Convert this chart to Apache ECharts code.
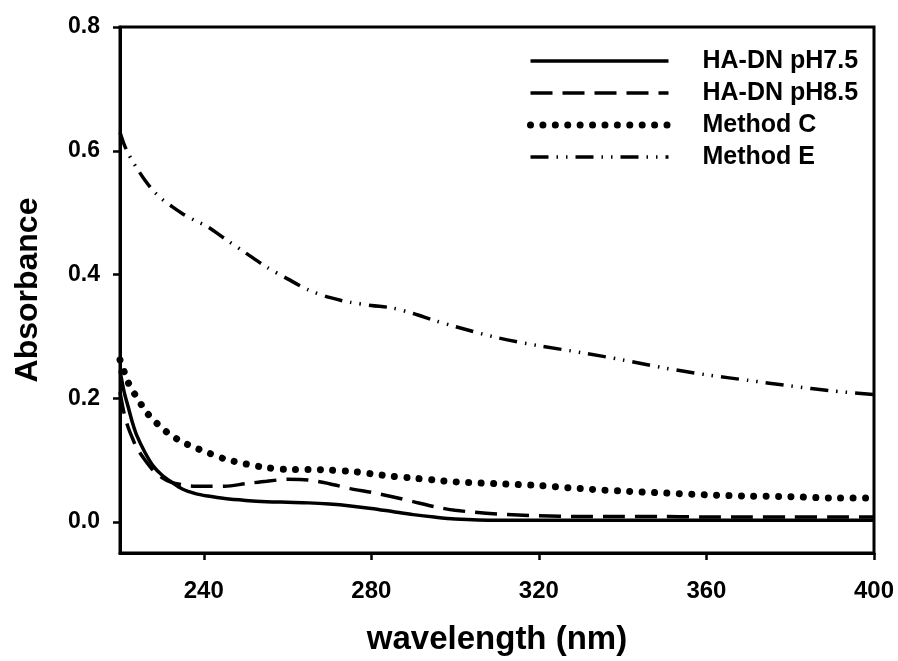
<!DOCTYPE html>
<html>
<head>
<meta charset="utf-8">
<script src="https://cdn.jsdelivr.net/npm/echarts@6/dist/echarts.min.js"></script>
<style>
html,body{margin:0;padding:0;background:#fff;}
#chart{width:898px;height:661px;}
</style>
</head>
<body>
<div id="chart"></div>
<script>
var wavelength = [220,221,222,223,224,226,228,230,232,235,238,241,245,250,255,260,265,270,275,280,285,290,295,300,310,320,330,340,350,360,370,380,390,400];
var ph75 = [0.245,0.21,0.185,0.16,0.14,0.112,0.09,0.076,0.066,0.053,0.046,0.042,0.038,0.035,0.033,0.032,0.031,0.029,0.026,0.022,0.017,0.012,0.008,0.005,0.003,0.003,0.003,0.003,0.003,0.003,0.003,0.003,0.003,0.003];
var ph85 = [0.21,0.175,0.152,0.135,0.12,0.1,0.083,0.072,0.065,0.060,0.058,0.058,0.058,0.062,0.066,0.069,0.068,0.062,0.054,0.048,0.041,0.033,0.025,0.019,0.013,0.010,0.009,0.009,0.009,0.008,0.008,0.008,0.008,0.008];
var methodC = [0.262,0.243,0.225,0.212,0.202,0.180,0.165,0.152,0.141,0.129,0.120,0.112,0.102,0.094,0.088,0.085,0.085,0.084,0.082,0.078,0.074,0.071,0.068,0.065,0.062,0.059,0.054,0.050,0.047,0.044,0.042,0.041,0.039,0.039];
var methodE = [0.63,0.61,0.595,0.583,0.572,0.552,0.535,0.522,0.512,0.498,0.487,0.477,0.458,0.435,0.412,0.393,0.375,0.363,0.355,0.350,0.346,0.337,0.326,0.316,0.298,0.285,0.274,0.262,0.249,0.238,0.229,0.220,0.212,0.206];
var xTicks = [240,280,320,360,400];
var yTicks = [0,0.2,0.4,0.6,0.8];
var seriesNames = ['HA-DN pH7.5','HA-DN pH8.5','Method C','Method E'];

function pairs(ys){ return wavelength.map(function(x,i){ return [x, ys[i]]; }); }

var FONT = '"Liberation Sans", Arial, sans-serif';
var styles = [
  {color:'#000', width:3.5, type:'solid'},
  {color:'#000', width:3.5, type:[22,10]},
  {color:'#000', width:7, type:[0.01,12.4], cap:'round'},
  {color:'#000', width:3.5, type:[18,8,1.5,8,1.5,8]}
];
var datasets = [ph75, ph85, methodC, methodE];

var chart = echarts.init(document.getElementById('chart'), null, {renderer:'canvas'});
chart.setOption({
  animation: false,
  backgroundColor: '#fff',
  grid: {left:120, right:24, top:27, bottom:108, show:true, borderColor:'#000', borderWidth:3},
  legend: {
    orient:'vertical', left:527, top:47, padding:0, itemWidth:138, itemHeight:14, itemGap:4,
    textStyle:{fontFamily:FONT, fontWeight:'bold', fontSize:25, color:'#000', lineHeight:28, padding:[0,0,0,29]},
    itemStyle:{color:'rgba(0,0,0,0)', borderWidth:0, opacity:0},
    data: seriesNames.map(function(n,i){
      return {name:n, lineStyle:styles[i], itemStyle:{color:'rgba(0,0,0,0)', borderWidth:0, opacity:0}};
    })
  },
  xAxis: {
    type:'value', min:220, max:400, interval:20,
    name:'wavelength (nm)', nameLocation:'middle', nameGap:70,
    nameTextStyle:{fontFamily:FONT, fontWeight:'bold', fontSize:33, color:'#000'},
    axisLine:{show:true, onZero:false, lineStyle:{color:'#000', width:3}},
    axisTick:{show:true, inside:false, length:7, lineStyle:{color:'#000', width:2.5}, customValues:xTicks},
    axisLabel:{fontFamily:FONT, fontWeight:'bold', fontSize:24, color:'#000', margin:26, customValues:xTicks},
    splitLine:{show:false}
  },
  yAxis: {
    type:'value', min:-0.05, max:0.8,
    name:'Absorbance', nameLocation:'middle', nameGap:76,
    nameTextStyle:{fontFamily:FONT, fontWeight:'bold', fontSize:32, color:'#000'},
    axisLine:{show:true, onZero:false, lineStyle:{color:'#000', width:3}},
    axisTick:{show:true, inside:false, length:7, lineStyle:{color:'#000', width:2.5}, customValues:yTicks},
    axisLabel:{fontFamily:FONT, fontWeight:'bold', fontSize:23, color:'#000', margin:20, customValues:yTicks,
      formatter:function(v){ return v.toFixed(1); }},
    splitLine:{show:false}
  },
  series: seriesNames.map(function(n,i){
    return {name:n, type:'line', data:pairs(datasets[i]), symbol:'none', smooth:0.3,
      lineStyle:styles[i], itemStyle:{color:'#000'}};
  })
});
</script>
</body>
</html>
